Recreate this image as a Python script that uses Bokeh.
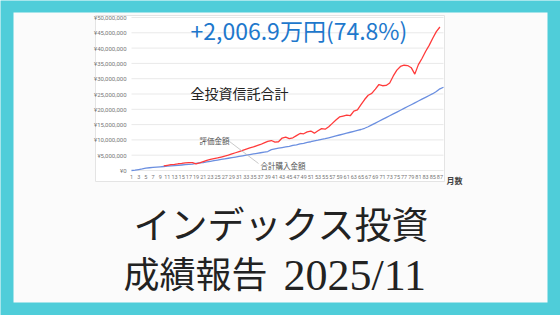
import math
from bokeh.plotting import figure
from bokeh.models import Range1d
from bokeh.core.properties import value
from bokeh.embed import file_html
from bokeh.resources import INLINE

# ---------------- data ----------------
months = list(range(1, 89))
# 合計購入金額 (million yen)
purchase_m = [
    0.0, 0.1, 0.3, 0.5, 0.8, 0.9, 1.0, 1.1, 1.2, 1.3,
    1.4, 1.5, 1.6, 1.7, 1.8, 1.9, 2.0, 2.1, 2.3, 2.5,
    2.6, 2.8, 3.0, 3.2, 3.4, 3.6, 3.8, 4.0, 4.2, 4.4,
    4.6, 4.8, 5.0, 5.2, 5.4, 5.6, 5.8, 6.0, 6.2, 6.8,
    7.1, 7.3, 7.5, 7.7, 7.9, 8.2, 8.4, 8.7, 8.9, 9.2,
    9.4, 9.7, 9.9, 10.2, 10.4, 10.7, 11.0, 11.3, 11.6, 11.9,
    12.2, 12.5, 12.8, 13.1, 13.4, 13.8, 14.3, 14.9, 15.5, 16.1,
    16.7, 17.3, 17.9, 18.5, 19.1, 19.7, 20.3, 20.9, 21.5, 22.1,
    22.7, 23.3, 23.9, 24.5, 25.1, 25.8, 26.7, 27.2,
]
# 評価金額 (million yen), months 10..87
valuation_months = list(range(10, 88))
valuation_m = [
    1.5, 1.7, 1.9, 2.0, 2.2, 2.3, 2.5, 2.6, 2.6, 2.2,
    2.5, 2.9, 3.3, 3.6, 3.9, 4.1, 4.4, 4.7, 5.0, 5.4,
    5.8, 6.2, 6.6, 7.0, 7.4, 7.7, 8.1, 8.5, 9.0, 9.5,
    9.8, 9.3, 9.4, 10.6, 10.9, 10.4, 10.7, 11.4, 12.1, 12.0,
    12.6, 12.9, 12.2, 13.0, 13.7, 13.5, 14.3, 15.4, 16.5, 17.5,
    17.8, 18.1, 17.9, 19.4, 19.8, 21.5, 23.2, 24.6, 25.2, 26.6,
    28.1, 27.7, 27.8, 28.6, 30.9, 32.8, 34.0, 34.4, 34.3, 33.6,
    31.5, 34.6, 36.6, 38.9, 40.9, 43.2, 45.4, 46.9,
]
y_ticks = [0, 5e6, 10e6, 15e6, 20e6, 25e6, 30e6, 35e6, 40e6, 45e6, 50e6]
y_tick_labels = ["¥0", "¥5,000,000", "¥10,000,000", "¥15,000,000", "¥20,000,000",
                 "¥25,000,000", "¥30,000,000", "¥35,000,000", "¥40,000,000",
                 "¥45,000,000", "¥50,000,000"]
x_tick_months = list(range(1, 88, 2))
x_tick_labels = [str(m) for m in x_tick_months]

title_main = "インデックス投資"
title_sub_words = "成績報告"
title_sub_date = "2025/11"
chart_title = "全投資信託合計"
gain_text = "+2,006.9万円(74.8%)"
label_value = "評価金額"
label_cost = "合計購入金額"
x_axis_name = "月数"

# ---------------- layout ----------------
W, H = 560, 315
PX_L, PX_R = 131.0, 443.0          # plot area in pixels
PY_0, PY_TOP = 170.0, 17.0         # y pixel of 0 and of 50M
step = (PX_R - PX_L) / (months[-1] - 1)
m_lo = 1 - PX_L / step
m_hi = 1 + (W - PX_L) / step
vpp = 50e6 / (PY_0 - PY_TOP)
v_hi = PY_TOP * vpp + 50e6
v_lo = -(H - PY_0) * vpp

p = figure(width=W, height=H, x_range=Range1d(0, W), y_range=Range1d(H, 0),
           output_backend="svg", toolbar_location=None, min_border=0,
           x_axis_type=None, y_axis_type=None)
p.outline_line_color = None
p.background_fill_color = "#4FCDD9"
p.border_fill_color = "#4FCDD9"
p.extra_x_ranges = {"m": Range1d(m_lo, m_hi)}
p.extra_y_ranges = {"v": Range1d(v_lo, v_hi)}

JP = value("Noto Sans CJK JP")

# white panel
p.quad(left=13, right=547, top=12, bottom=302, fill_color="#fbfbfb", line_color=None)
# chart image box
p.quad(left=95, right=444, top=15, bottom=181, fill_color="#ffffff",
       line_color="#e4e4e4", line_width=1)

# grid lines
p.segment(x0=[1] * len(y_ticks), x1=[months[-1]] * len(y_ticks), y0=y_ticks, y1=y_ticks,
          x_range_name="m", y_range_name="v", line_color="#e9e9e9", line_width=1)

# series
p.line(months, [v * 1e6 for v in purchase_m], x_range_name="m", y_range_name="v",
       line_color="#6B8FE0", line_width=1.3)
p.line(valuation_months, [v * 1e6 for v in valuation_m], x_range_name="m", y_range_name="v",
       line_color="#FF3B3B", line_width=1.3)

# tick labels
p.text(x=[PX_L - 5] * len(y_ticks), y=y_ticks, text=y_tick_labels, y_range_name="v",
       text_align="right", text_baseline="middle", text_font_size="6px",
       text_color="#777777", text_font=value("Roboto"))
p.text(x=x_tick_months, y=[176] * len(x_tick_months), text=x_tick_labels, x_range_name="m",
       text_align="center", text_baseline="middle", text_font_size="5.5px",
       text_color="#777777", text_font=value("Roboto"))
p.text(x=[454], y=[180], text=[x_axis_name], text_align="center", text_baseline="middle",
       text_font_size="8px", text_font_style="bold", text_color="#444444", text_font=JP)

# annotations inside chart
p.text(x=[190], y=[29], text=[gain_text], text_align="left", text_baseline="middle",
       text_font_size="23px", text_color="#1E78CC", text_font=JP)
p.text(x=[190], y=[92], text=[chart_title], text_align="left", text_baseline="middle",
       text_font_size="14px", text_color="#222222", text_font=JP)
p.line([229, 258], [141, 163], line_color="#bbbbbb", line_width=0.8)
p.text(x=[199], y=[140], text=[label_value], text_align="left", text_baseline="middle",
       text_font_size="7.5px", text_color="#555555", text_font=JP)
p.text(x=[260], y=[165], text=[label_cost], text_align="left", text_baseline="middle",
       text_font_size="7.5px", text_color="#555555", text_font=JP)

# big titles
p.text(x=[281], y=[222], text=[title_main], text_align="center", text_baseline="middle",
       text_font_size="37px", text_color="#222222", text_font=JP)
p.text(x=[123], y=[271], text=[title_sub_words], text_align="left", text_baseline="middle",
       text_font_size="36px", text_color="#222222", text_font=JP)
p.text(x=[283], y=[275], text=[title_sub_date], text_align="left", text_baseline="alphabetic",
       text_font_size="44px", text_color="#222222", text_font=value("Liberation Serif"))

open("out.html", "w").write(file_html(p, INLINE))
